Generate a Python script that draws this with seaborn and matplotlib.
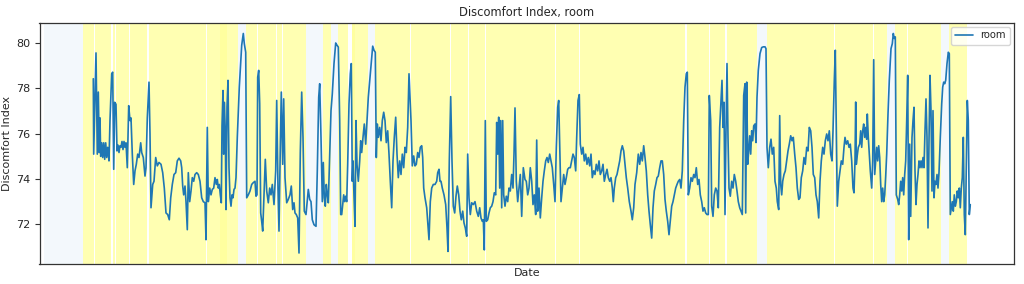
import matplotlib
matplotlib.use("Agg")
import matplotlib.pyplot as plt
import seaborn as sns
import pandas as pd

# ---- data (hour offset, discomfort index) ----
seg_1 = [(93.3, 78.43), (93.7, 75.10), (96.0, 79.57), (97.3, 75.10), (98.3, 77.84), (99.3, 75.17), (100.0, 76.70),
         (100.7, 75.00), (101.7, 75.60), (102.7, 74.95), (103.7, 75.60), (104.7, 74.87), (105.7, 75.60), (106.7, 74.95),
         (107.7, 75.40), (109.0, 74.80), (110.0, 76.60), (111.7, 78.65), (112.7, 78.72), (113.7, 74.43), (114.7, 77.39),
         (116.0, 77.30), (117.0, 75.24), (118.0, 75.50), (119.0, 75.17), (120.0, 75.47), (121.0, 75.40), (122.0, 75.66),
         (123.0, 75.30), (124.0, 75.66), (125.0, 75.40), (126.0, 75.60), (127.3, 74.50), (128.7, 77.24), (130.0, 76.58),
         (131.0, 76.70), (132.3, 75.10), (133.7, 73.76), (135.0, 74.36), (136.3, 74.65), (137.7, 75.10), (139.0, 74.95),
         (140.7, 75.60), (141.7, 75.17), (143.3, 74.95), (145.0, 74.13), (146.0, 74.50), (147.3, 76.70), (149.0, 78.28),
         (150.0, 75.99), (151.0, 72.73), (152.7, 73.76), (154.0, 73.90), (155.7, 74.95), (157.3, 74.58), (159.0, 74.73),
         (161.0, 74.65), (162.7, 74.28), (164.3, 73.60), (166.0, 72.50), (167.7, 72.43), (169.3, 72.20), (170.7, 73.17),
         (172.3, 73.76), (174.0, 74.20), (175.7, 74.28), (177.3, 74.80), (179.0, 74.92), (180.7, 74.80), (181.7, 74.50),
         (182.7, 73.69), (183.7, 73.30), (185.0, 73.69), (186.0, 73.00), (187.3, 71.76), (188.3, 74.28), (189.7, 73.00),
         (191.0, 73.47), (192.3, 74.06), (193.7, 73.90), (195.0, 74.20)]
seg_2 = [(196.7, 74.28), (198.3, 74.20), (200.0, 73.90), (201.7, 73.17), (203.3, 73.00), (205.0, 72.95), (206.0, 71.32),
         (207.3, 76.28), (208.3, 73.00), (209.7, 73.60), (211.0, 73.30), (212.3, 73.54), (213.7, 73.60), (215.0, 74.06),
         (216.3, 73.76), (217.3, 73.98), (218.3, 73.60), (219.3, 73.76), (220.3, 73.30), (221.3, 72.95), (222.0, 76.35),
         (223.0, 77.91), (223.7, 75.10), (224.3, 77.39), (225.3, 76.13), (226.0, 72.65), (227.0, 77.17), (228.0, 78.36),
         (229.0, 74.50), (230.0, 73.17), (231.0, 72.80), (232.0, 73.30), (233.0, 73.17), (234.0, 73.54), (235.0, 73.60),
         (236.0, 74.06), (237.3, 75.84), (239.3, 78.06), (241.7, 79.91), (243.3, 80.43), (244.3, 79.98), (245.7, 79.60),
         (246.7, 73.17), (248.3, 73.30), (250.0, 73.47), (251.7, 73.76), (253.3, 73.84), (255.0, 73.90), (256.0, 73.24),
         (257.0, 73.30), (257.7, 78.50), (258.7, 78.80), (259.7, 77.32), (260.7, 72.50), (261.7, 72.13), (262.7, 71.70),
         (264.0, 73.30), (265.3, 74.87), (266.7, 73.47), (268.3, 72.95), (269.7, 73.60), (271.0, 73.30), (272.3, 73.76),
         (274.0, 72.87), (275.7, 74.36), (276.7, 77.47), (278.0, 73.60), (279.0, 71.70), (280.3, 75.40), (281.3, 77.84),
         (282.7, 74.65), (283.7, 77.54), (285.0, 74.06), (286.7, 72.95), (288.3, 73.10), (290.0, 73.30), (291.3, 73.69),
         (292.7, 72.65), (294.0, 72.95), (295.0, 72.50), (296.3, 72.43), (297.7, 72.28), (299.0, 70.73), (300.3, 75.17),
         (301.7, 77.84), (303.0, 75.84), (304.3, 72.58), (306.0, 72.43)]
seg_3 = [(308.3, 73.54), (309.7, 73.10), (311.0, 73.00), (312.3, 72.20), (314.0, 71.98), (316.0, 71.91), (317.3, 74.36),
         (318.7, 77.61), (319.7, 78.21), (321.0, 75.84), (322.3, 73.00), (323.3, 74.73), (324.3, 73.17), (325.3, 72.80),
         (326.3, 73.76), (327.3, 73.30), (328.3, 72.95), (329.7, 75.10), (331.0, 77.02), (332.3, 77.76), (334.0, 79.10),
         (335.7, 80.01), (337.0, 79.91), (338.3, 79.83), (339.7, 76.58), (340.7, 72.43), (341.7, 72.43), (342.7, 72.87),
         (343.7, 73.30), (344.7, 73.00), (345.7, 73.24), (346.7, 73.00), (347.7, 74.65), (349.0, 77.32), (350.3, 78.65),
         (351.3, 79.10), (352.3, 73.90), (353.0, 74.80), (354.0, 73.24), (355.0, 71.91), (356.0, 76.58), (357.0, 74.65),
         (358.3, 73.90), (359.7, 74.80), (360.7, 75.69), (361.7, 75.17), (363.0, 75.84), (364.3, 76.43), (365.7, 75.54),
         (367.0, 76.58), (368.3, 77.61), (370.0, 78.50), (371.7, 79.39), (372.7, 79.87), (374.0, 79.69), (375.3, 79.60),
         (376.3, 74.95), (377.3, 76.43), (378.3, 75.84), (379.7, 76.28), (381.0, 75.69), (382.3, 76.58), (383.7, 76.95),
         (385.0, 76.58), (386.3, 75.61), (387.7, 76.13), (389.0, 75.10), (390.3, 73.90), (391.7, 72.73), (393.0, 74.80),
         (394.3, 75.84), (395.7, 76.73), (397.0, 75.10), (398.3, 74.06), (399.7, 74.80), (401.0, 74.20), (402.3, 75.10),
         (403.7, 74.50), (405.0, 75.40), (406.3, 75.17), (407.7, 76.28), (409.0, 78.65), (411.0, 76.58), (412.3, 74.58),
         (413.7, 75.02), (415.0, 74.58)]
seg_4 = [(416.3, 74.65), (417.7, 75.17), (419.0, 74.95), (420.3, 75.40), (421.7, 75.47), (422.7, 74.95), (423.7, 73.60),
         (425.0, 73.17), (426.7, 72.73), (429.0, 71.32), (430.3, 73.00), (431.7, 73.60), (433.3, 73.76), (435.0, 73.76),
         (436.7, 73.90), (437.7, 74.28), (439.0, 74.43), (440.0, 73.90), (441.0, 73.90), (442.3, 73.60), (444.0, 73.30),
         (445.7, 72.87), (447.0, 71.84), (448.0, 70.80), (449.3, 74.80), (450.7, 77.64), (452.0, 74.80), (453.3, 72.80),
         (454.7, 72.50), (456.0, 73.24), (457.3, 73.69), (458.7, 73.30), (460.0, 72.58), (461.3, 72.20), (462.7, 72.58),
         (464.0, 72.06), (465.3, 71.84), (466.7, 71.47), (467.7, 75.10), (469.0, 73.17), (470.3, 72.43), (471.7, 72.95),
         (473.3, 72.87), (475.0, 73.00), (476.7, 72.58), (478.3, 72.35), (479.7, 72.73), (481.0, 72.28), (482.3, 72.13),
         (483.3, 72.20), (484.3, 70.87), (485.3, 76.58), (486.3, 72.13), (487.7, 72.20), (489.0, 72.50), (490.3, 72.73),
         (491.7, 72.80), (493.0, 73.00), (494.3, 73.39), (495.7, 73.30), (496.7, 76.50), (497.7, 75.10), (498.7, 76.73),
         (499.7, 73.60), (500.7, 76.58), (501.7, 72.73), (502.7, 76.58), (503.7, 73.30), (505.0, 72.80), (506.3, 73.24),
         (507.7, 73.00), (509.0, 73.60), (510.3, 73.47), (511.7, 74.20), (513.0, 73.60), (514.0, 75.10), (515.0, 77.14),
         (516.3, 73.90), (517.7, 73.00), (519.0, 73.60), (520.3, 74.20), (521.7, 72.35), (523.3, 74.50), (525.0, 73.98)]
seg_5 = [(526.3, 73.90), (527.7, 73.30), (529.0, 73.60), (530.3, 74.50), (531.7, 73.90), (533.0, 72.87), (534.3, 73.30),
         (535.7, 72.43), (536.7, 75.72), (537.7, 72.58), (539.0, 73.60), (540.3, 72.28), (541.7, 73.17), (543.0, 73.90),
         (544.3, 74.36), (545.7, 74.80), (547.0, 74.95), (548.3, 74.73), (549.7, 75.10), (551.0, 74.80), (552.3, 74.50),
         (553.7, 73.76), (555.0, 73.00), (556.3, 75.40), (557.7, 77.17), (558.7, 77.47), (559.7, 75.54), (561.0, 73.00),
         (562.3, 73.60), (563.7, 74.20), (565.0, 73.76), (566.3, 74.06), (567.7, 74.43), (569.0, 74.50), (570.3, 74.50),
         (571.7, 74.80), (573.0, 75.10), (574.3, 74.95), (575.7, 74.36), (576.7, 75.84), (578.0, 77.47), (579.3, 77.73),
         (580.3, 75.54), (581.7, 75.10), (583.0, 75.40), (584.3, 74.80), (585.7, 75.10), (587.0, 74.65), (588.3, 74.95),
         (589.7, 74.58), (591.0, 75.10), (592.3, 74.06), (593.7, 74.36), (595.0, 74.20), (596.3, 74.65), (597.7, 74.36),
         (599.0, 74.80), (600.3, 74.20), (601.7, 74.36), (603.0, 74.65), (604.3, 73.90), (605.7, 74.20), (607.0, 74.43),
         (608.3, 74.06), (609.7, 73.90), (611.0, 74.06), (612.3, 73.60), (613.3, 73.00), (614.3, 73.60), (615.7, 74.06),
         (617.0, 74.20), (618.3, 74.50), (619.7, 74.80), (621.0, 75.24), (622.3, 75.47), (623.7, 75.24), (625.0, 74.65),
         (626.3, 74.06), (627.7, 73.60), (629.3, 73.00), (631.0, 72.58), (632.3, 72.20), (633.7, 72.73), (635.0, 73.76)]
seg_6 = [(636.7, 74.28), (638.3, 75.10), (639.7, 74.65), (641.0, 75.17), (642.3, 74.80), (643.7, 75.47), (645.0, 74.95),
         (646.3, 74.36), (647.7, 73.30), (649.0, 72.58), (650.3, 71.98), (651.7, 71.39), (653.0, 72.73), (654.3, 73.47),
         (655.7, 73.76), (657.0, 74.06), (658.3, 74.13), (659.7, 74.50), (661.0, 74.80), (662.3, 74.80), (663.7, 74.20),
         (665.0, 73.10), (666.3, 72.58), (667.7, 72.13), (669.0, 71.54), (670.3, 72.13), (671.7, 72.80), (673.0, 73.00),
         (674.3, 73.30), (675.7, 73.60), (677.0, 73.76), (678.3, 73.90), (679.7, 73.98), (681.0, 73.60), (682.3, 74.36),
         (683.7, 76.58), (685.0, 78.06), (686.3, 78.65), (687.3, 78.72), (688.3, 73.30), (689.7, 73.60), (691.0, 74.06),
         (692.3, 73.90), (693.7, 74.20), (695.0, 74.06), (696.3, 74.50), (697.7, 73.76), (699.0, 73.98), (700.3, 73.30),
         (701.7, 73.00), (703.0, 72.58), (704.3, 72.73), (705.7, 72.50), (707.0, 72.43), (708.3, 72.43), (709.3, 77.69),
         (710.7, 76.58), (711.7, 72.80), (713.0, 72.35), (714.3, 73.30), (715.7, 73.60), (717.0, 73.47), (718.3, 72.73),
         (719.7, 76.28), (721.0, 77.47), (722.0, 78.36), (723.0, 76.28), (724.0, 77.39), (725.0, 72.43), (726.0, 76.13),
         (727.0, 79.10), (728.0, 75.84), (729.0, 73.60), (730.3, 73.24), (731.7, 73.90), (733.0, 73.60), (734.3, 74.20),
         (735.7, 73.90), (737.0, 73.47), (738.3, 73.00), (739.7, 72.73), (741.0, 72.58), (742.3, 72.43), (743.7, 77.69)]
seg_7 = [(745.0, 78.21), (745.7, 72.50), (746.7, 78.28), (747.7, 74.65), (748.7, 75.24), (749.7, 75.91), (750.7, 75.10),
         (751.7, 76.13), (752.7, 75.69), (753.7, 76.35), (755.0, 76.43), (756.0, 75.61), (757.0, 77.61), (758.3, 78.80),
         (760.0, 79.54), (761.7, 79.81), (763.3, 79.84), (765.0, 79.84), (766.0, 79.76), (767.0, 75.40), (768.3, 74.50),
         (769.7, 75.40), (771.0, 75.76), (772.3, 75.10), (773.7, 75.40), (775.0, 73.90), (776.3, 73.60), (777.3, 73.00),
         (778.7, 72.65), (779.7, 76.80), (780.7, 73.76), (781.7, 73.30), (782.7, 73.90), (784.0, 74.20), (785.3, 74.36),
         (786.7, 74.80), (788.0, 75.24), (789.3, 75.54), (790.7, 75.91), (792.0, 75.69), (793.3, 75.84), (794.7, 75.10),
         (796.0, 74.50), (797.3, 73.60), (798.7, 73.10), (800.0, 73.17), (801.3, 74.06), (802.7, 74.36), (804.0, 74.95),
         (805.3, 74.65), (806.7, 75.40), (808.0, 75.24), (809.3, 76.28), (810.7, 76.13), (812.0, 75.40), (813.3, 74.20),
         (814.7, 74.06), (816.0, 73.30), (817.3, 73.00), (818.7, 72.28), (820.0, 73.90), (821.3, 74.80), (822.7, 75.40),
         (824.0, 75.10), (825.3, 75.69), (826.7, 75.99), (828.0, 75.69), (829.3, 76.13), (830.7, 75.10), (832.0, 74.80),
         (833.0, 76.13), (834.3, 78.36), (835.3, 79.69), (836.3, 76.13), (837.3, 72.80), (838.7, 73.90), (840.0, 74.36),
         (841.3, 74.80), (842.7, 74.65), (844.0, 75.40), (845.0, 75.84), (846.3, 75.54), (847.7, 75.69), (849.0, 75.40),
         (850.3, 75.54), (851.7, 74.80), (853.0, 73.60), (854.0, 73.39), (855.0, 74.80), (855.7, 77.40), (856.3, 74.65)]
seg_8 = [(857.0, 74.95), (858.3, 75.40), (859.7, 75.54), (860.7, 76.13), (861.7, 75.40), (862.7, 76.13), (863.7, 76.43),
         (864.7, 75.84), (865.7, 76.28), (866.7, 75.76), (867.3, 76.87), (868.3, 75.84), (869.3, 75.10), (870.3, 74.36),
         (871.7, 73.60), (872.7, 74.80), (873.7, 79.27), (874.7, 74.20), (875.7, 74.80), (876.7, 75.40), (877.7, 74.80),
         (878.7, 75.47), (879.7, 74.95), (880.7, 73.76), (881.7, 73.00), (882.7, 73.60), (883.7, 73.00), (884.7, 73.30),
         (885.7, 74.13), (886.7, 75.10), (888.0, 76.87), (889.3, 78.36), (891.0, 79.76), (892.3, 79.98), (893.3, 80.43),
         (894.3, 80.21), (895.3, 80.28), (896.3, 73.30), (897.7, 73.10), (898.7, 72.87), (899.7, 73.30), (900.7, 73.90),
         (901.7, 73.47), (902.7, 74.06), (903.7, 73.30), (904.7, 74.20), (905.7, 74.80), (906.7, 76.58), (907.7, 78.58),
         (908.7, 71.32), (909.7, 75.54), (910.7, 72.35), (912.0, 75.84), (913.0, 76.58), (914.0, 77.17), (915.0, 74.36),
         (916.0, 72.87), (917.0, 73.76), (918.0, 74.20), (919.0, 74.80), (920.0, 74.50), (921.0, 74.80), (922.0, 74.50),
         (923.0, 74.95), (924.0, 74.50), (925.0, 76.13), (926.0, 77.54), (927.0, 75.84), (928.0, 71.84), (929.0, 75.69),
         (930.0, 78.58), (931.0, 77.02), (932.0, 73.47), (933.0, 77.02), (934.0, 73.17), (935.0, 73.90), (936.0, 73.76),
         (937.0, 74.20), (938.0, 73.60), (939.0, 74.28), (940.3, 75.84), (941.7, 77.32), (942.7, 78.06), (943.7, 78.28),
         (944.7, 78.21), (945.7, 78.36), (947.0, 79.10), (948.3, 79.60), (949.3, 79.54), (950.3, 72.43), (951.3, 72.73),
         (952.3, 73.00), (953.3, 72.58), (954.3, 73.30), (955.3, 72.80), (956.3, 73.00), (957.3, 73.47), (958.3, 73.17),
         (959.3, 73.60), (960.3, 72.73), (961.3, 73.60), (962.3, 74.06), (963.3, 75.84), (964.3, 72.43), (965.3, 71.54),
         (966.3, 74.36), (967.3, 77.47), (968.3, 76.58), (969.3, 72.43), (970.3, 72.87)]

# periods flagged as "slightly uncomfortable" (yellow) and "comfortable" (light blue)
warm_start = [83, 94.8, 113, 115.8, 130, 149.5, 207.5, 246, 258.3, 276.8, 282.8, 323, 338, 352.5, 375, 410.7, 451,
              468.7, 486, 500.3, 556.3, 579.8, 687, 709.8, 721.3, 727, 746.5, 767, 834.7, 873.8, 895, 907.8, 949]
warm_end = [94, 111, 115, 129, 147.5, 206.5, 238, 257.3, 276, 282, 306, 331, 348.5, 368, 410, 450.3, 468, 485.5,
            499.7, 555.5, 578.8, 685, 709, 720.7, 725.3, 746, 757, 833.8, 873, 887, 906.8, 941, 967]
warm2_start = [220, 352.5]
warm2_end = [227, 355.5]
cool_start = [44, 238, 306, 331, 368, 757, 887, 941]
cool_end = [83, 246, 323, 338, 375, 767, 895, 949]

title = "Discomfort Index, room"
y_ticks = [72, 74, 76, 78, 80]

# ---- build frame ----
pairs = seg_1 + seg_2 + seg_3 + seg_4 + seg_5 + seg_6 + seg_7 + seg_8
df = pd.DataFrame(pairs, columns=["hour", "room"])

sns.set_style("ticks")
plt.rcParams["font.family"] = ["DejaVu Sans"]
plt.rcParams["font.size"] = 8

fig = plt.figure(figsize=(10.24, 2.84), dpi=100)
ax = fig.add_axes([39.5 / 1024, 1 - 264 / 284, (1014 - 39.5) / 1024, (264 - 22.5) / 284])

for s, e in zip(cool_start, cool_end):
    ax.axvspan(s, e, color="#e9f2fb", alpha=0.5, lw=0, zorder=0)
for s, e in zip(warm_start, warm_end):
    ax.axvspan(s, e, color="yellow", alpha=0.3, lw=0, zorder=0)
for s, e in zip(warm2_start, warm2_end):
    ax.axvspan(s, e, color="yellow", alpha=0.1, lw=0, zorder=0)

sns.lineplot(data=df, x="hour", y="room", ax=ax, label="room", color="#1f77b4",
             lw=1.2, estimator=None, sort=False, zorder=3)

ax.set_xlim(39.5, 1014)
ax.set_xticks([])
ax.set_yticks(y_ticks)
ax.tick_params(axis="y", labelsize=8, length=3.5, width=0.8, pad=3, colors="#333333", labelcolor="#262626")
for sp in ax.spines.values():
    sp.set_color("#333333")
    sp.set_linewidth(0.9)
ax.set_xlabel("Date", fontsize=8, labelpad=3)
ax.set_ylabel("Discomfort Index", fontsize=8, labelpad=3)
ax.set_title(title, fontsize=8.3, pad=5)
ax.legend(loc="upper right", fontsize=7.2, frameon=True, framealpha=0.8, borderpad=0.4,
          handlelength=1.8, borderaxespad=0.4)

fig.savefig("out.png", dpi=100)
